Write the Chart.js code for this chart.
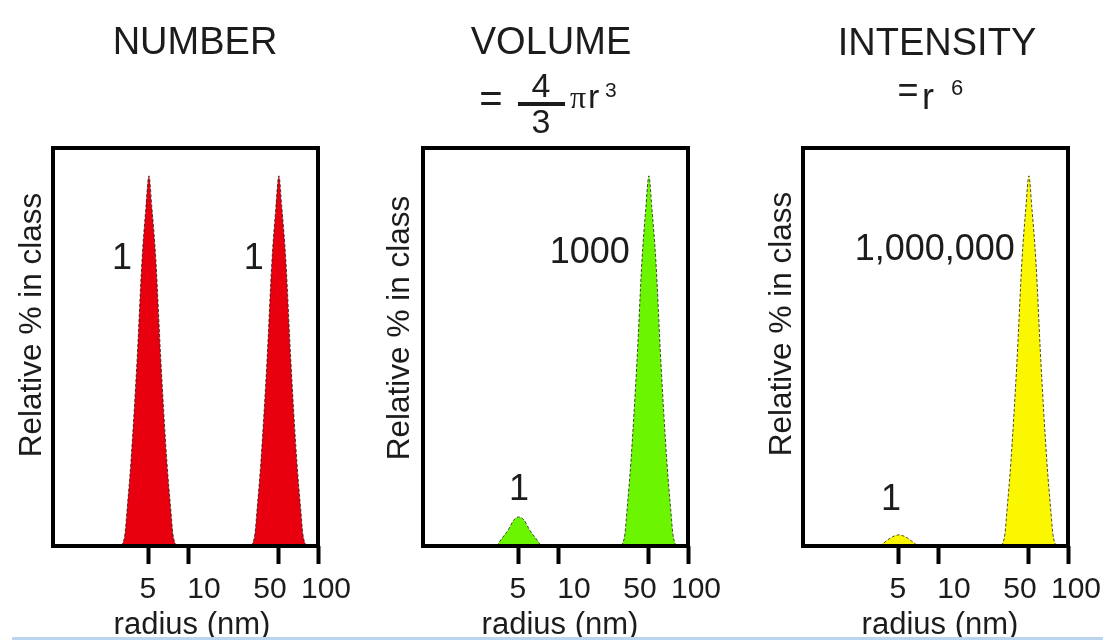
<!DOCTYPE html>
<html>
<head>
<meta charset="utf-8">
<script src="https://cdn.jsdelivr.net/npm/chart.js@4/dist/chart.umd.min.js"></script>
<style>
  html, body { margin: 0; padding: 0; background: #fff; overflow: hidden; }
  body { width: 1103px; height: 640px; position: relative; }
  .panel { position: absolute; top: 0; width: 360px; height: 640px; }
  #edge { position: absolute; left: 12px; right: 0; bottom: 0; height: 3px; background: #bcd5ef; }
</style>
</head>
<body>
<div class="panel" style="left:0"><canvas id="cNumber" width="360" height="640"></canvas></div>
<div class="panel" style="left:370px"><canvas id="cVolume" width="360" height="640"></canvas></div>
<div class="panel" style="left:750px"><canvas id="cIntensity" width="360" height="640"></canvas></div>
<div id="edge"></div>
<script>
// radius axis ticks (nm)
const tickValues = [5, 10, 50, 100];

// narrow size peaks around 5 nm and 50 nm
const peak5Radius = [3.10, 3.27, 3.39, 3.64, 4.05, 4.42, 4.74, 5, 5.27, 5.66, 6.18, 6.87, 7.38, 7.65, 8.07];
const peak50Radius = [31.0, 32.7, 33.9, 36.4, 40.5, 44.2, 47.4, 50, 52.7, 56.6, 61.8, 68.7, 73.8, 76.5, 80.7];
const peakHeight = [0, 3, 8.8, 21.4, 46.5, 71.6, 85, 93, 85, 71.6, 46.5, 21.4, 8.8, 3, 0];

// small 5 nm bump in the volume distribution
const volBumpRadius = [3.38, 3.62, 4.13, 4.56, 5, 5.48, 6.05, 6.90, 7.40];
const volBumpHeight = [0, 1.5, 4, 6.5, 7.3, 6.5, 4, 1.5, 0];

// tiny 5 nm bump in the intensity distribution
const intBumpRadius = [3.57, 3.97, 4.46, 5, 5.61, 6.29, 7.0];
const intBumpHeight = [0, 1.2, 2.3, 2.8, 2.3, 1.2, 0];

const ink = '#1c1c1c';
const sans = '"Liberation Sans", Arial, sans-serif';
// tick labels are nudged sideways so "50" and "100" don't collide
const tickLabelShift = [-1, 16, -9, 8];

function pts(xs, ys) {
  return xs.map((x, i) => ({ x: x, y: ys[i] }));
}

function text(ctx, str, x, y, size, align, base, family) {
  ctx.font = size + 'px ' + (family || sans);
  ctx.fillStyle = ink;
  ctx.textAlign = align || 'center';
  ctx.textBaseline = base || 'middle';
  ctx.fillText(str, x, y);
}

const panelText = {
  id: 'panelText',
  afterDraw(chart, args, opts) {
    const ctx = chart.ctx;
    const area = chart.chartArea;
    const xs = chart.scales.x, ys = chart.scales.y;
    ctx.save();
    // frame
    ctx.strokeStyle = '#000';
    ctx.lineWidth = 4;
    ctx.strokeRect(area.left, area.top, area.right - area.left, area.bottom - area.top);

    opts.header(ctx);

    // radius tick labels
    tickValues.forEach((v, i) => {
      text(ctx, String(v), xs.getPixelForValue(v) + tickLabelShift[i], area.bottom + 52, 30, 'center', 'alphabetic');
    });

    // axis titles
    ctx.save();
    ctx.translate(opts.yTitle[0], opts.yTitle[1]);
    ctx.rotate(-Math.PI / 2);
    text(ctx, 'Relative % in class', 0, 0, 31.5);
    ctx.restore();
    text(ctx, 'radius (nm)', opts.xTitle[0], opts.xTitle[1], 31, 'center', 'alphabetic');

    // peak labels
    opts.labels.forEach(l => {
      text(ctx, l.text, xs.getPixelForValue(l.r) + l.dx, ys.getPixelForValue(l.y), 36, l.align);
    });
    ctx.restore();
  }
};

function peakSet(xs, ys, color) {
  return {
    data: pts(xs, ys),
    backgroundColor: color,
    borderColor: 'rgba(30,30,30,0.8)',
    borderWidth: 1,
    borderDash: [3, 2],
    fill: 'origin',
    pointRadius: 0,
    cubicInterpolationMode: 'monotone'
  };
}

function makePanel(id, datasets, text) {
  new Chart(document.getElementById(id), {
    type: 'line',
    data: { datasets: datasets },
    options: {
      responsive: false,
      animation: false,
      layout: { padding: { top: 148, right: 42, bottom: 0, left: 0 } },
      plugins: {
        legend: { display: false },
        tooltip: { enabled: false },
        panelText: text
      },
      scales: {
        x: {
          type: 'logarithmic',
          min: 0.914,
          max: 100,
          afterBuildTicks: s => { s.ticks = tickValues.map(v => ({ value: v })); },
          afterFit: s => { s.height = 94; },
          ticks: { display: false, autoSkip: false },
          grid: {
            drawOnChartArea: false,
            drawTicks: true,
            tickLength: 18,
            tickWidth: 4,
            tickColor: '#000'
          },
          border: { display: false }
        },
        y: {
          min: 0,
          max: 100,
          afterFit: s => { s.width = 53; },
          ticks: { display: false },
          grid: { display: false },
          border: { display: false }
        }
      }
    },
    plugins: [panelText]
  });
}

makePanel('cNumber', [
  peakSet(peak5Radius, peakHeight, '#e8000f'),
  peakSet(peak50Radius, peakHeight, '#e8000f')
], {
  header(ctx) {
    text(ctx, 'NUMBER', 195, 44, 38);
  },
  yTitle: [32, 325],
  xTitle: [192, 634],
  labels: [
    { text: '1', r: 5, y: 72, dx: -27, align: 'center' },
    { text: '1', r: 50, y: 72, dx: -25, align: 'center' }
  ]
});

makePanel('cVolume', [
  peakSet(volBumpRadius, volBumpHeight, '#6cf500'),
  peakSet(peak50Radius, peakHeight, '#6cf500')
], {
  header(ctx) {
    text(ctx, 'VOLUME', 181, 44, 38);
    // = 4/3 πr³
    text(ctx, '=', 121, 101, 40);
    text(ctx, '4', 171, 88, 34);
    ctx.fillStyle = ink;
    ctx.fillRect(148, 102, 47, 4);
    text(ctx, '3', 171, 124, 34);
    text(ctx, 'π', 200, 108, 32, 'left', 'alphabetic', '"Liberation Serif", "Times New Roman", serif');
    text(ctx, 'r', 218, 108, 34, 'left', 'alphabetic');
    text(ctx, '3', 235, 91, 21, 'left');
  },
  yTitle: [30, 328],
  xTitle: [190, 634],
  labels: [
    { text: '1000', r: 50, y: 73.6, dx: -19, align: 'right' },
    { text: '1', r: 5, y: 14, dx: 0, align: 'center' }
  ]
});

makePanel('cIntensity', [
  peakSet(intBumpRadius, intBumpHeight, '#fbf700'),
  peakSet(peak50Radius, peakHeight, '#fbf700')
], {
  header(ctx) {
    text(ctx, 'INTENSITY', 187, 45, 38);
    // = r⁶
    text(ctx, '=', 158, 92, 36);
    text(ctx, 'r', 172, 109, 36, 'left', 'alphabetic');
    text(ctx, '6', 207, 89, 22);
  },
  yTitle: [32, 324],
  xTitle: [190, 634],
  labels: [
    { text: '1,000,000', r: 50, y: 74.4, dx: -14, align: 'right' },
    { text: '1', r: 5, y: 11.6, dx: -8, align: 'center' }
  ]
});
</script>
</body>
</html>
